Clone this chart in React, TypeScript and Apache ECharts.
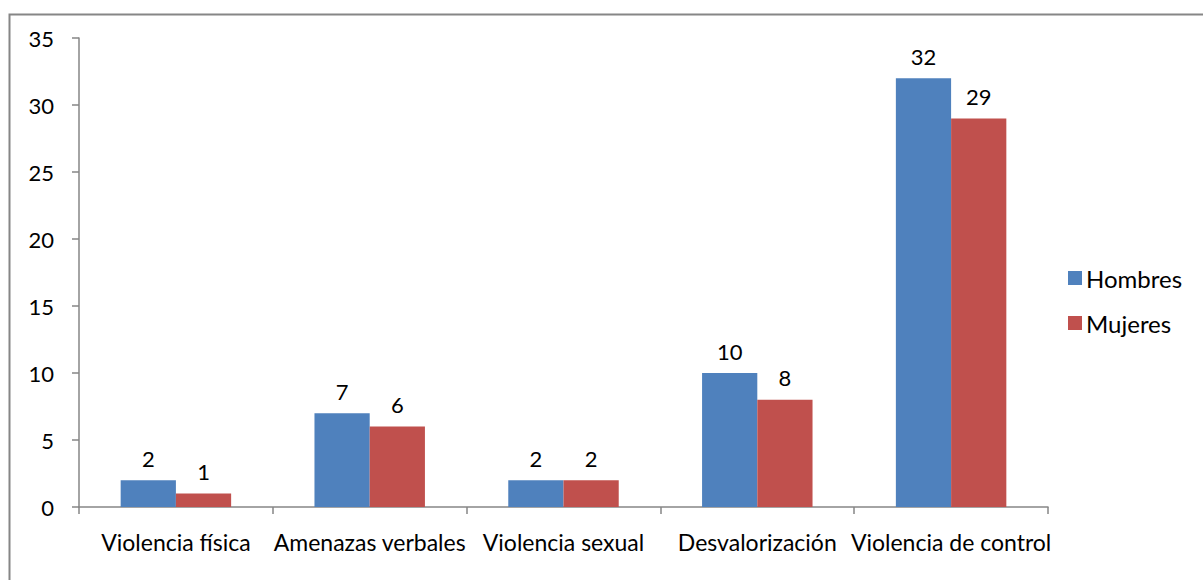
import React, { useEffect, useRef } from "react";
import * as echarts from "echarts";

const categories = ["Violencia física", "Amenazas verbales", "Violencia sexual", "Desvalorización", "Violencia de control"];
const hombres = [2, 7, 2, 10, 32];
const mujeres = [1, 6, 2, 8, 29];
const seriesNames = ["Hombres", "Mujeres"];

const FONT = "Lato";

export default function App() {
  const ref = useRef<HTMLDivElement>(null);
  useEffect(() => {
    if (!ref.current) return;
    const chart = echarts.init(ref.current, null, { renderer: "svg" });
    const labelStyle = { show: true, position: "top" as const, distance: 11, color: "#000", fontSize: 22, fontFamily: FONT };
    chart.setOption({
      animation: false,
      graphic: [
        { type: "rect", shape: { x: 9.5, y: 14.5, width: 1250, height: 620 }, style: { fill: "none", stroke: "#868686", lineWidth: 2 }, silent: true },
      ],
      grid: { left: 79, right: 155, top: 38, bottom: 73 },
      legend: {
        orient: "vertical",
        left: 1063,
        top: 261,
        itemWidth: 14,
        itemHeight: 14,
        itemGap: 21,
        icon: "rect",
        data: seriesNames,
        textStyle: { fontFamily: FONT, fontSize: 24, color: "#000", padding: [0, 0, 0, -1] },
      },
      xAxis: {
        type: "category",
        data: categories,
        axisLine: { lineStyle: { color: "#868686", width: 1.5 } },
        axisTick: { show: true, length: 7, lineStyle: { color: "#868686", width: 1.5 } },
        axisLabel: { color: "#000", fontSize: 23, fontFamily: FONT, margin: 23, interval: 0 },
      },
      yAxis: {
        type: "value",
        min: 0,
        max: 35,
        interval: 5,
        splitLine: { show: false },
        axisLine: { show: true, lineStyle: { color: "#868686", width: 1.5 } },
        axisTick: { show: true, length: 7, lineStyle: { color: "#868686", width: 1.5 } },
        axisLabel: { color: "#000", fontSize: 22, fontFamily: FONT, margin: 25 },
      },
      series: [
        { name: seriesNames[0], type: "bar", data: hombres, itemStyle: { color: "#4F81BD" }, barGap: "0%", barCategoryGap: "43%", label: labelStyle },
        { name: seriesNames[1], type: "bar", data: mujeres, itemStyle: { color: "#C0504D" }, barGap: "0%", barCategoryGap: "43%", label: labelStyle },
      ],
    });
    return () => chart.dispose();
  }, []);
  return <div ref={ref} style={{ position: "absolute", left: 0, top: 0, width: 1203, height: 580, background: "#fff" }} />;
}
